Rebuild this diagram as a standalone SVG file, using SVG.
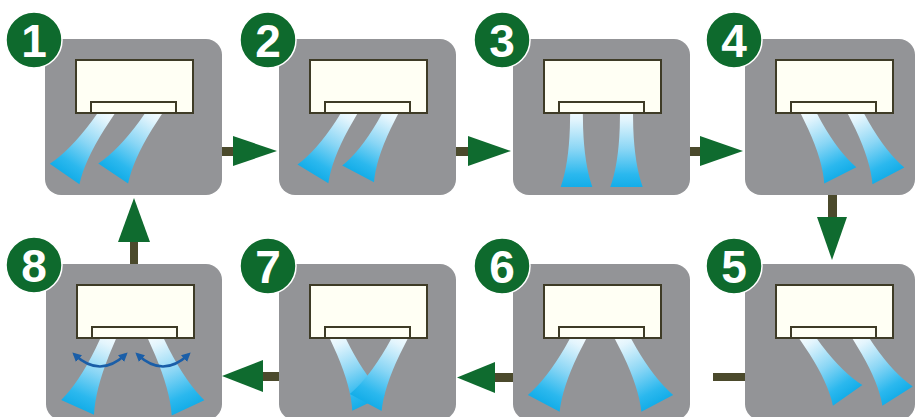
<svg xmlns="http://www.w3.org/2000/svg" xmlns:xlink="http://www.w3.org/1999/xlink" width="915" height="417" viewBox="0 0 915 417">
  <style>
    .panel { fill: #939497; }
    .unit { fill: #fffff4; stroke: #3e3b26; stroke-width: 2; }
    .badge { fill: #0e6a2d; stroke: #ffffff; stroke-width: 1.5; }
    .num { fill: #ffffff; font-family: "Liberation Sans", Arial, sans-serif; font-weight: bold; font-size: 46px; text-anchor: middle; }
    .shaft { fill: #4b4a2c; }
    .head { fill: #0f6b2f; }
    .swing { fill: none; stroke: #1a5ea8; stroke-width: 2.5; stroke-linecap: round; }
  </style>
  <defs>
    <linearGradient id="air" x1="0" y1="0" x2="0" y2="1">
      <stop offset="0" stop-color="#ffffff"/>
      <stop offset="0.2" stop-color="#e3f5fd"/>
      <stop offset="0.55" stop-color="#8ad6f5"/>
      <stop offset="0.85" stop-color="#2bb8ee"/>
      <stop offset="1" stop-color="#14ade8"/>
    </linearGradient>
    <!-- one air jet, 100 units long, pointing straight down from the vent -->
    <path id="jet" d="M -7,-14 L 7,-14 L 7.5,20 Q 9,70 18,100 L -18,100 Q -9,70 -7.5,20 Z" fill="url(#air)"/>
    <!-- indoor unit body with its vent -->
    <g id="ac">
      <rect class="unit" x="0" y="0" width="117" height="53"/>
      <rect class="unit" x="15" y="42" width="85" height="11"/>
    </g>
    <marker id="tip" viewBox="0 0 10 10" refX="6" refY="5" markerWidth="9" markerHeight="9" markerUnits="userSpaceOnUse" orient="auto-start-reverse">
      <path d="M0,0 L10,5 L0,10 z" fill="#1a5ea8"/>
    </marker>
  </defs>

  <rect width="915" height="417" fill="#ffffff"/>

  <!-- flow arrows between the steps -->
  <g id="connectors">
    <!-- 1 to 2 -->
    <rect class="shaft" x="220" y="147" width="16" height="9"/>
    <polygon class="head" points="233,136 277,151 233,166"/>
    <!-- 2 to 3 -->
    <rect class="shaft" x="454" y="147" width="16" height="9"/>
    <polygon class="head" points="468,136 511,151 468,166"/>
    <!-- 3 to 4 -->
    <rect class="shaft" x="688" y="147" width="16" height="9"/>
    <polygon class="head" points="700,136 743,151 700,166"/>
    <!-- 4 to 5 -->
    <rect class="shaft" x="828" y="193" width="9" height="26"/>
    <polygon class="head" points="817,217 847,217 832,260"/>
    <!-- 5 to 6 -->
    <rect class="shaft" x="713" y="373" width="33" height="8"/>
    <!-- 6 to 7 -->
    <rect class="shaft" x="492" y="373" width="22" height="9"/>
    <polygon class="head" points="495,362 457,377.5 495,393"/>
    <!-- 7 to 8 -->
    <rect class="shaft" x="260" y="372" width="20" height="9"/>
    <polygon class="head" points="263,360 222,376 263,392"/>
    <!-- 8 to 1 -->
    <rect class="shaft" x="130" y="240" width="8" height="25"/>
    <polygon class="head" points="118,242 150,242 134,198"/>
  </g>

  <g id="step-1">
    <rect class="panel" x="45" y="39" width="177" height="156" rx="16"/>
    <use xlink:href="#jet" transform="translate(106.5,113) rotate(34.5) scale(1,0.74)"/>
    <use xlink:href="#jet" transform="translate(154,113) rotate(34) scale(1,0.73)"/>
    <use xlink:href="#ac" x="76" y="60"/>
    <circle class="badge" cx="34" cy="40" r="28"/>
    <text class="num" x="34" y="57">1</text>
  </g>

  <g id="step-2">
    <rect class="panel" x="279" y="39" width="177" height="156" rx="16"/>
    <use xlink:href="#jet" transform="translate(349.5,113) rotate(31) scale(1,0.71)"/>
    <use xlink:href="#jet" transform="translate(390.5,113) rotate(28) scale(1,0.69)"/>
    <use xlink:href="#ac" x="310" y="60"/>
    <circle class="badge" cx="268" cy="40" r="28"/>
    <text class="num" x="268" y="57">2</text>
  </g>

  <g id="step-3">
    <rect class="panel" x="513" y="39" width="177" height="156" rx="16"/>
    <use xlink:href="#jet" transform="translate(576.5,113) scale(0.88,0.74)"/>
    <use xlink:href="#jet" transform="translate(626.5,113) scale(0.9,0.74)"/>
    <use xlink:href="#ac" x="544" y="60"/>
    <circle class="badge" cx="502" cy="40" r="28"/>
    <text class="num" x="502" y="57">3</text>
  </g>

  <g id="step-4">
    <rect class="panel" x="745" y="39" width="170" height="156" rx="16"/>
    <use xlink:href="#jet" transform="translate(808.5,113) rotate(-27) scale(1,0.70)"/>
    <use xlink:href="#jet" transform="translate(855.5,113) rotate(-27.6) scale(1,0.71)"/>
    <use xlink:href="#ac" x="776" y="60"/>
    <circle class="badge" cx="734" cy="40" r="28"/>
    <text class="num" x="734" y="57">4</text>
  </g>

  <g id="step-5">
    <rect class="panel" x="745" y="264" width="170" height="156" rx="16"/>
    <use xlink:href="#jet" transform="translate(807.5,338) rotate(-35) scale(1,0.70)"/>
    <use xlink:href="#jet" transform="translate(860.5,338) rotate(-32.5) scale(1,0.69)"/>
    <use xlink:href="#ac" x="776" y="285"/>
    <circle class="badge" cx="734" cy="266" r="28"/>
    <text class="num" x="734" y="283">5</text>
  </g>

  <g id="step-6">
    <rect class="panel" x="513" y="264" width="177" height="156" rx="16"/>
    <use xlink:href="#jet" transform="translate(578.5,338) rotate(28) scale(1,0.74)"/>
    <use xlink:href="#jet" transform="translate(622.5,338) rotate(-28) scale(1,0.74)"/>
    <use xlink:href="#ac" x="544" y="285"/>
    <circle class="badge" cx="502" cy="266" r="28"/>
    <text class="num" x="502" y="283">6</text>
  </g>

  <g id="step-7">
    <rect class="panel" x="279" y="264" width="177" height="156" rx="16"/>
    <use xlink:href="#jet" transform="translate(337.5,338) rotate(-25.5) scale(1,0.72)"/>
    <use xlink:href="#jet" transform="translate(400,338) rotate(28) scale(1,0.73)"/>
    <use xlink:href="#ac" x="310" y="285"/>
    <circle class="badge" cx="268" cy="266" r="28"/>
    <text class="num" x="268" y="283">7</text>
  </g>

  <g id="step-8">
    <rect class="panel" x="46" y="264" width="176" height="156" rx="16"/>
    <use xlink:href="#jet" transform="translate(108.5,338) rotate(24) scale(1,0.76)"/>
    <use xlink:href="#jet" transform="translate(155.5,338) rotate(-25) scale(1,0.77)"/>
    <use xlink:href="#ac" x="77" y="285"/>
    <path class="swing" d="M 75,355 Q 100,378 125,355" marker-start="url(#tip)" marker-end="url(#tip)"/>
    <path class="swing" d="M 138,355 Q 163,378 188,355" marker-start="url(#tip)" marker-end="url(#tip)"/>
    <circle class="badge" cx="34" cy="265" r="28"/>
    <text class="num" x="34" y="282">8</text>
  </g>
</svg>
